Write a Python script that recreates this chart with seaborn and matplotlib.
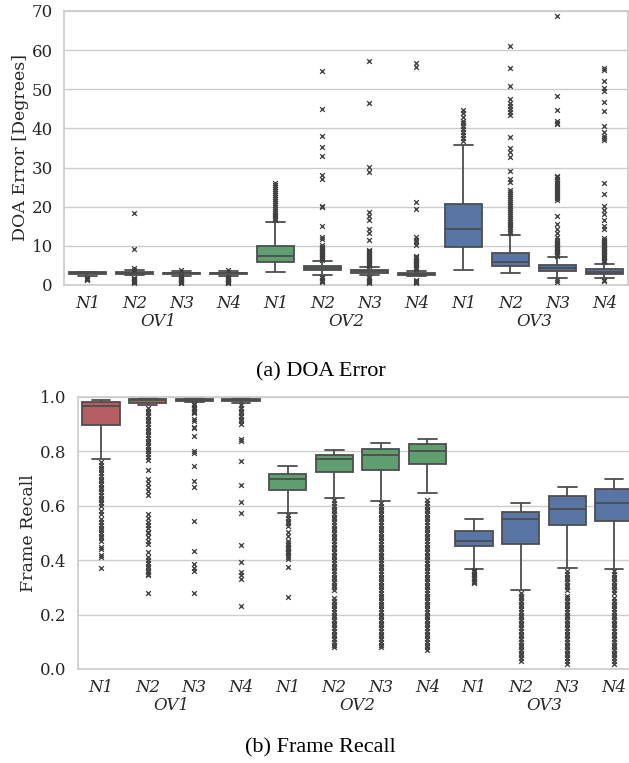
import numpy as np
import pandas as pd
import matplotlib
matplotlib.use("Agg")
import matplotlib.pyplot as plt
import seaborn as sns

groups = ["OV1", "OV2", "OV3"]
noise = ["N1", "N2", "N3", "N4"]
box_colors = ["#C44E52"] * 4 + ["#55A868"] * 4 + ["#4C72B0"] * 4

# box summaries, order: OV1 N1..N4, OV2 N1..N4, OV3 N1..N4
doa_lo = [2.2, 2.5, 2.4, 2.4, 3.2, 2.55, 2.55, 2.3, 3.8, 3.15, 1.7, 1.7]
doa_q1 = [2.7, 2.75, 2.8, 2.75, 5.8, 3.8, 3.15, 2.55, 9.8, 4.85, 3.6, 2.8]
doa_med = [3.0, 3.0, 3.0, 2.95, 7.4, 4.3, 3.5, 2.85, 14.4, 5.95, 4.4, 3.4]
doa_q3 = [3.2, 3.2, 3.15, 3.15, 10.0, 4.85, 3.8, 3.15, 20.6, 8.1, 5.1, 4.0]
doa_hi = [3.4, 3.7, 3.5, 3.6, 16.2, 6.1, 4.5, 3.65, 35.8, 12.8, 7.1, 5.4]

doa_fliers = [
    [1.3, 1.45, 1.6, 1.75, 1.9],
    [0.5, 0.7, 0.9, 1.1, 1.3, 1.5, 1.7, 1.9, 3.9, 4.3, 9.3, 18.5],
    [0.4, 0.6, 0.8, 1.0, 1.2, 1.4, 1.6, 1.8, 2.0, 2.2, 3.75],
    [0.4, 0.6, 0.8, 1.0, 1.2, 1.4, 1.6, 1.8, 2.0, 3.8],
    [16.5, 17.0, 17.5, 18.0, 18.5, 19.0, 19.5, 20.0, 20.5, 21.0, 21.5, 22.0, 22.5,
     23.0, 23.5, 24.0, 24.5, 25.0, 25.5, 26.0],
    [0.85, 1.1, 1.4, 1.7, 2.0, 6.5, 6.8, 7.1, 7.4, 7.7, 8.0, 8.3, 8.6, 8.9, 9.2, 9.5,
     9.8, 10.1, 11.7, 12.3, 15.1, 19.8, 20.1, 27.1, 28.1, 33.0, 35.3, 38.1, 45.0, 54.7],
    [0.5, 0.8, 1.1, 1.4, 1.7, 2.0, 4.8, 5.1, 5.4, 5.7, 6.0, 6.3, 6.6, 6.9, 7.2, 7.5,
     7.8, 8.1, 8.4, 8.7, 9.0, 11.5, 13.2, 14.3, 16.6, 17.6, 18.7, 28.8, 30.1, 46.4, 57.2],
    [0.5, 0.8, 1.1, 1.4, 4.1, 4.4, 4.7, 5.0, 5.3, 5.6, 5.9, 6.2, 6.5, 6.8, 7.1, 7.5,
     10.3, 10.9, 11.5, 12.2, 19.4, 21.1, 55.8, 56.6],
    [36.9, 37.5, 38.2, 39.0, 39.8, 40.5, 41.3, 42.0, 43.0, 44.0, 44.8],
    [13.2, 13.7, 14.2, 14.7, 15.2, 15.7, 16.2, 16.7, 17.2, 17.7, 18.2, 18.7, 19.2,
     19.7, 20.2, 20.7, 21.2, 21.7, 22.2, 22.7, 23.2, 23.7, 24.2, 26.2, 27.2, 29.0,
     32.8, 34.1, 35.1, 37.8, 43.4, 44.2, 45.0, 45.8, 46.6, 47.5, 50.8, 55.5, 61.0],
    [0.85, 1.3, 7.4, 7.7, 8.0, 8.3, 8.6, 8.9, 9.2, 9.5, 9.8, 10.1, 10.4, 10.7, 11.0,
     11.5, 12.3, 13.3, 14.3, 15.6, 17.6, 21.7, 22.1, 22.5, 22.9, 23.3, 23.7, 24.1,
     24.5, 24.9, 25.3, 25.7, 26.1, 26.5, 27.0, 27.5, 27.9, 41.1, 41.5, 41.9, 44.7,
     48.4, 68.7],
    [0.9, 1.3, 5.9, 6.2, 6.5, 6.8, 7.1, 7.4, 7.7, 8.0, 8.3, 8.6, 8.9, 9.2, 9.5, 9.8,
     10.1, 10.4, 10.7, 11.0, 11.3, 11.6, 11.9, 14.2, 15.0, 16.6, 18.1, 19.2, 20.3,
     23.2, 26.0, 37.0, 37.5, 38.0, 39.0, 40.5, 44.5, 46.7, 49.6, 50.2, 52.1, 54.8, 55.5],
]

rec_lo = [0.773, 0.971, 0.982, 0.979, 0.574, 0.63, 0.619, 0.646, 0.369, 0.289, 0.371, 0.369]
rec_q1 = [0.897, 0.979, 0.987, 0.985, 0.658, 0.723, 0.732, 0.752, 0.451, 0.46, 0.528, 0.543]
rec_med = [0.968, 0.988, 0.99, 0.99, 0.699, 0.771, 0.787, 0.803, 0.472, 0.551, 0.59, 0.609]
rec_q3 = [0.983, 0.991, 0.993, 0.993, 0.716, 0.787, 0.809, 0.827, 0.507, 0.577, 0.636, 0.661]
rec_hi = [0.989, 0.995, 0.996, 0.996, 0.745, 0.804, 0.831, 0.847, 0.55, 0.609, 0.67, 0.699]

rec_fliers = [
    [0.76, 0.75, 0.74, 0.73, 0.72, 0.71, 0.70, 0.69, 0.68, 0.67, 0.66, 0.65, 0.64,
     0.63, 0.62, 0.61, 0.60, 0.58, 0.57, 0.55, 0.54, 0.53, 0.52, 0.51, 0.50, 0.49,
     0.48, 0.47, 0.45, 0.44, 0.42, 0.41, 0.37],
    [0.96, 0.95, 0.94, 0.93, 0.92, 0.91, 0.90, 0.89, 0.88, 0.87, 0.86, 0.85, 0.84,
     0.83, 0.82, 0.81, 0.80, 0.79, 0.78, 0.77, 0.73, 0.70, 0.685, 0.67, 0.655, 0.64,
     0.57, 0.555, 0.54, 0.53, 0.52, 0.505, 0.50, 0.485, 0.47, 0.46, 0.43, 0.41, 0.40,
     0.39, 0.38, 0.37, 0.36, 0.355, 0.35, 0.345, 0.28],
    [0.975, 0.97, 0.965, 0.96, 0.955, 0.95, 0.945, 0.94, 0.92, 0.91, 0.89, 0.885,
     0.855, 0.80, 0.795, 0.745, 0.69, 0.67, 0.545, 0.435, 0.385, 0.37, 0.36, 0.28],
    [0.97, 0.96, 0.95, 0.94, 0.93, 0.92, 0.91, 0.90, 0.845, 0.84, 0.765, 0.675,
     0.615, 0.575, 0.455, 0.395, 0.355, 0.345, 0.33, 0.23],
    [0.565, 0.555, 0.545, 0.535, 0.525, 0.505, 0.49, 0.47, 0.465, 0.455, 0.45, 0.445,
     0.44, 0.435, 0.43, 0.425, 0.42, 0.41, 0.405, 0.375, 0.265],
    [0.62, 0.61, 0.60, 0.59, 0.58, 0.57, 0.56, 0.55, 0.54, 0.53, 0.52, 0.51, 0.50,
     0.49, 0.48, 0.47, 0.46, 0.45, 0.44, 0.43, 0.42, 0.41, 0.40, 0.39, 0.38, 0.37,
     0.36, 0.35, 0.34, 0.33, 0.32, 0.31, 0.30, 0.29, 0.26, 0.25, 0.24, 0.23, 0.22,
     0.21, 0.20, 0.19, 0.18, 0.17, 0.16, 0.15, 0.14, 0.13, 0.12, 0.11, 0.10, 0.09, 0.08],
    [0.61, 0.60, 0.59, 0.58, 0.57, 0.56, 0.55, 0.54, 0.53, 0.52, 0.51, 0.50, 0.49,
     0.48, 0.47, 0.46, 0.45, 0.44, 0.43, 0.42, 0.41, 0.40, 0.39, 0.38, 0.37, 0.36,
     0.35, 0.34, 0.33, 0.32, 0.31, 0.30, 0.29, 0.28, 0.27, 0.26, 0.25, 0.24, 0.23,
     0.22, 0.21, 0.20, 0.19, 0.18, 0.17, 0.16, 0.15, 0.14, 0.13, 0.12, 0.11, 0.10,
     0.09, 0.08],
    [0.62, 0.61, 0.60, 0.59, 0.58, 0.57, 0.56, 0.55, 0.54, 0.53, 0.52, 0.51, 0.50,
     0.49, 0.48, 0.47, 0.46, 0.45, 0.44, 0.43, 0.42, 0.41, 0.40, 0.39, 0.38, 0.37,
     0.36, 0.35, 0.34, 0.33, 0.32, 0.31, 0.30, 0.29, 0.28, 0.27, 0.26, 0.25, 0.24,
     0.23, 0.22, 0.21, 0.20, 0.19, 0.18, 0.17, 0.16, 0.15, 0.14, 0.13, 0.12, 0.11,
     0.10, 0.09, 0.08, 0.07],
    [0.365, 0.36, 0.355, 0.35, 0.345, 0.34, 0.335, 0.33, 0.325, 0.32, 0.315],
    [0.28, 0.27, 0.26, 0.25, 0.24, 0.23, 0.22, 0.21, 0.20, 0.19, 0.18, 0.17, 0.16,
     0.15, 0.14, 0.13, 0.12, 0.11, 0.10, 0.09, 0.08, 0.07, 0.06, 0.05, 0.04, 0.03],
    [0.36, 0.35, 0.34, 0.33, 0.32, 0.31, 0.30, 0.29, 0.27, 0.26, 0.25, 0.24, 0.23,
     0.22, 0.21, 0.20, 0.19, 0.18, 0.17, 0.16, 0.15, 0.14, 0.13, 0.12, 0.11, 0.10,
     0.09, 0.08, 0.07, 0.06, 0.05, 0.04, 0.03, 0.02],
    [0.36, 0.35, 0.34, 0.33, 0.32, 0.31, 0.30, 0.29, 0.28, 0.26, 0.25, 0.24, 0.23,
     0.22, 0.21, 0.20, 0.19, 0.18, 0.17, 0.16, 0.15, 0.14, 0.13, 0.12, 0.11, 0.10,
     0.09, 0.08, 0.07, 0.06, 0.05, 0.04, 0.03, 0.02],
]

cats = [g + " " + n for g in groups for n in noise]


def summary_frame(lo, q1, med, q3, hi):
    # five points per box give exactly these quartiles / whisker ends
    rows = []
    for i, c in enumerate(cats):
        for v in (lo[i], q1[i], med[i], q3[i], hi[i]):
            rows.append((c, v))
    return pd.DataFrame(rows, columns=["cond", "value"])


def flier_frame(fliers):
    rows = [(cats[i], v) for i, vals in enumerate(fliers) for v in vals]
    return pd.DataFrame(rows, columns=["cond", "value"])


sns.set_theme(style="whitegrid")
plt.rcParams["font.family"] = "serif"
plt.rcParams["font.serif"] = ["DejaVu Serif"]

fig = plt.figure(figsize=(6.29, 7.63), dpi=100)
ax1 = fig.add_axes([0.1017, 0.6265, 0.8967, 0.3591])
ax2 = fig.add_axes([0.1235, 0.1232, 0.8897, 0.3565])


def draw(ax, box_df, fl_df, ylabel, ylim, yticks, label_x):
    sns.boxplot(data=box_df, x="cond", y="value", hue="cond", order=cats,
                hue_order=cats, palette=box_colors, saturation=0.75, width=0.8,
                linewidth=1.3, linecolor="0.3", showfliers=False, legend=False, ax=ax)
    sns.stripplot(data=fl_df, x="cond", y="value", order=cats, jitter=False,
                  marker="x", color="0.25", size=3.4, linewidth=0.95, ax=ax)
    ax.set_xlim(-0.5, 11.5)
    ax.set_ylim(*ylim)
    ax.set_yticks(yticks)
    ax.set_xticks(range(12))
    ax.set_xticklabels(noise * 3, style="italic", fontsize=12)
    ax.tick_params(axis="y", labelsize=12, length=0, pad=8)
    ax.tick_params(axis="x", length=0, pad=7)
    ax.set_xlabel("")
    ax.set_ylabel(ylabel, fontsize=12.5)
    ax.yaxis.set_label_coords(label_x, 0.5)
    for k, g in enumerate(groups):
        ax.annotate(g, xy=(4 * k + 1.5, 0), xycoords=("data", "axes fraction"),
                    xytext=(0, -20), textcoords="offset points", ha="center",
                    va="top", style="italic", fontsize=12, color="0.15")


draw(ax1, summary_frame(doa_lo, doa_q1, doa_med, doa_q3, doa_hi),
     flier_frame(doa_fliers), "DOA Error [Degrees]", (0, 70), range(0, 71, 10), -0.062)
draw(ax2, summary_frame(rec_lo, rec_q1, rec_med, rec_q3, rec_hi),
     flier_frame(rec_fliers), "Frame Recall", (0, 1.0), [0.0, 0.2, 0.4, 0.6, 0.8, 1.0],
     -0.072)

fig.text(0.51, 1 - 372 / 763, "(a) DOA Error", ha="center", va="center",
         family="Liberation Serif", fontsize=16, color="black")
fig.text(0.51, 1 - 748 / 763, "(b) Frame Recall", ha="center", va="center",
         family="Liberation Serif", fontsize=16, color="black")

fig.savefig("out.png", dpi=100)
